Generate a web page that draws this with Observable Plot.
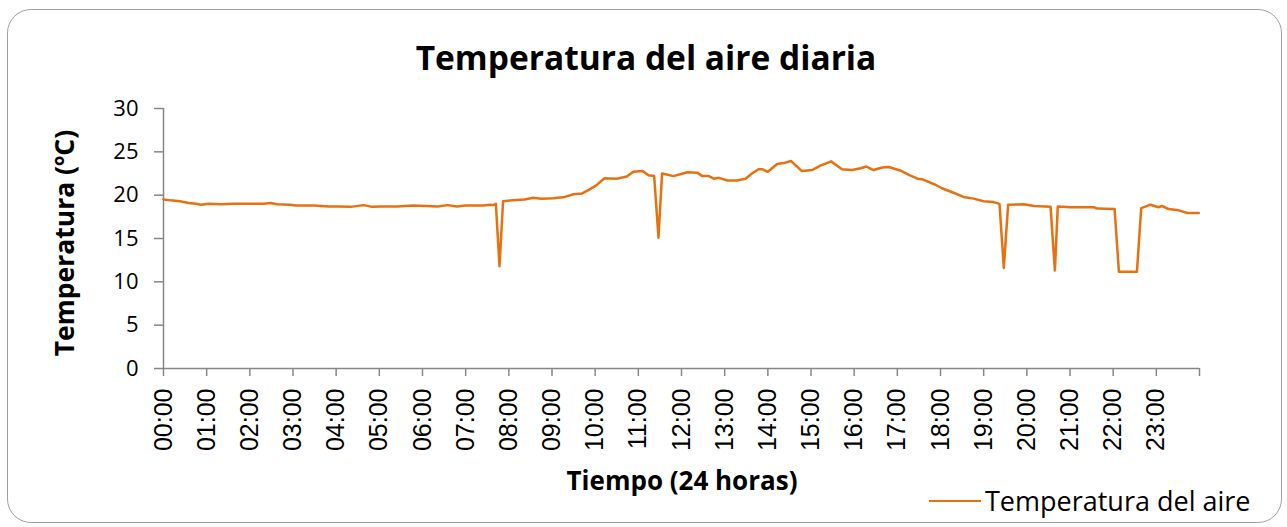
<!DOCTYPE html>
<html>
<head>
<meta charset="utf-8">
<script src="https://cdn.jsdelivr.net/npm/d3@7"></script>
<script src="https://cdn.jsdelivr.net/npm/@observablehq/plot@0.6"></script>
<style>
  html, body { margin: 0; padding: 0; background: #fff; }
  #wrap { position: relative; width: 1287px; height: 527px; overflow: hidden; font-family: "Open Sans", sans-serif; }
  #frame { position: absolute; left: 7px; top: 9px; width: 1275px; height: 514px; border: 1.5px solid #a0a0a0; border-radius: 24px; box-sizing: border-box; }
  #chart { position: absolute; left: 0; top: 0; }
  .t { position: absolute; white-space: nowrap; color: #000; }
  #title { left: 0; width: 1292px; text-align: center; top: 37px; font-weight: 700; font-size: 33.5px; line-height: 40px; }
  #ytitle { left: 64px; top: 243px; transform: translate(-50%, -50%) rotate(-90deg); font-weight: 700; font-size: 26.5px; line-height: 32px; }
  #xtitle { left: 682px; top: 480px; transform: translate(-50%, -50%); font-weight: 700; font-size: 26px; line-height: 32px; }
  #legend { left: 929px; top: 485px; height: 32px; display: flex; align-items: center; }
  #legend .sw { width: 52px; height: 0; border-top: 2.5px solid #E8700F; margin-right: 4px; }
  #legend span { font-size: 27px; line-height: 32px; }
</style>
</head>
<body>
<div id="wrap">
  <div id="frame"></div>
  <div id="chart"></div>
  <div class="t" id="title">Temperatura del aire diaria</div>
  <div class="t" id="ytitle">Temperatura (ºC)</div>
  <div class="t" id="xtitle">Tiempo (24 horas)</div>
  <div class="t" id="legend"><div class="sw"></div><span>Temperatura del aire</span></div>
</div>
<script>
const horas = ["00:00","00:10","00:23","00:35","00:45","00:52","01:03","01:20","01:38","02:00","02:19","02:29","02:38","02:56","03:04","03:29","03:50","04:04","04:20","04:38","04:50","05:02","05:25","05:47","06:05","06:21","06:35","06:48","07:00","07:11","07:25","07:34","07:38","07:42","07:47","07:52","08:05","08:22","08:34","08:45","09:02","09:18","09:30","09:42","09:53","10:01","10:13","10:30","10:44","10:53","11:06","11:14","11:22","11:28","11:33","11:49","12:08","12:22","12:29","12:38","12:45","12:52","13:04","13:17","13:29","13:38","13:47","13:52","14:00","14:13","14:22","14:32","14:47","15:02","15:06","15:13","15:28","15:43","15:57","16:09","16:17","16:27","16:39","16:48","17:04","17:16","17:28","17:34","17:53","18:02","18:19","18:32","18:46","19:00","19:14","19:22","19:28","19:34","19:56","20:10","20:33","20:39","20:43","21:01","21:33","21:38","22:02","22:08","22:33","22:39","22:52","23:03","23:08","23:17","23:29","23:43","23:59"];
const temperatura = [19.5,19.4,19.3,19.1,19.0,18.9,19.0,18.95,19.0,19.0,19.0,19.1,18.95,18.9,18.8,18.8,18.7,18.7,18.65,18.85,18.65,18.7,18.7,18.8,18.75,18.7,18.85,18.7,18.8,18.8,18.8,18.9,18.85,19.0,11.8,19.3,19.4,19.5,19.7,19.6,19.65,19.8,20.1,20.2,20.7,21.1,21.95,21.9,22.15,22.7,22.8,22.3,22.2,15.1,22.5,22.2,22.65,22.6,22.2,22.2,21.9,22.0,21.7,21.7,21.9,22.5,23.0,23.0,22.7,23.6,23.7,23.95,22.8,22.9,23.1,23.4,23.9,23.0,22.9,23.1,23.3,22.9,23.2,23.25,22.85,22.35,21.9,21.85,21.2,20.8,20.25,19.8,19.6,19.3,19.2,19.0,11.6,18.9,18.95,18.75,18.65,11.3,18.7,18.6,18.6,18.45,18.4,11.15,11.15,18.5,18.9,18.6,18.75,18.4,18.3,17.95,17.95];
const yTicks = [0,5,10,15,20,25,30];
const xTickHoras = [0,1,2,3,4,5,6,7,8,9,10,11,12,13,14,15,16,17,18,19,20,21,22,23,24];
const xTickLabels = ["00:00","01:00","02:00","03:00","04:00","05:00","06:00","07:00","08:00","09:00","10:00","11:00","12:00","13:00","14:00","15:00","16:00","17:00","18:00","19:00","20:00","21:00","22:00","23:00",""];

const toHours = s => { const [h, m] = s.split(":").map(Number); return h + m / 60; };
const data = horas.map((h, i) => ({hora: toHours(h), temp: temperatura[i]}));

const axisGrey = "#868686";
const chart = Plot.plot({
  width: 1287,
  height: 527,
  marginLeft: 163,
  marginRight: 88,
  marginTop: 108,
  marginBottom: 159,
  style: {fontFamily: "Open Sans, sans-serif", background: "transparent", overflow: "visible"},
  x: {domain: [0, 24]},
  y: {domain: [0, 30]},
  marks: [
    Plot.axisY({ticks: yTicks, tickSize: 9, tickPadding: 16, fontSize: 22, fontFamily: "Open Sans", stroke: axisGrey, strokeWidth: 1.5, fill: "#000", label: null}),
    Plot.axisX({ticks: xTickHoras, tickFormat: (d, i) => xTickLabels[i], tickSize: 8, tickPadding: 12, tickRotate: -90, fontSize: 25, fontFamily: "Liberation Sans", stroke: axisGrey, strokeWidth: 1.5, fill: "#000", label: null}),
    Plot.ruleY([0], {stroke: axisGrey, strokeWidth: 1.5}),
    Plot.ruleX([0], {stroke: axisGrey, strokeWidth: 1.5}),
    Plot.line(data, {x: "hora", y: "temp", stroke: "#E8700F", strokeWidth: 2.5})
  ]
});
document.getElementById("chart").appendChild(chart);
</script>
</body>
</html>
